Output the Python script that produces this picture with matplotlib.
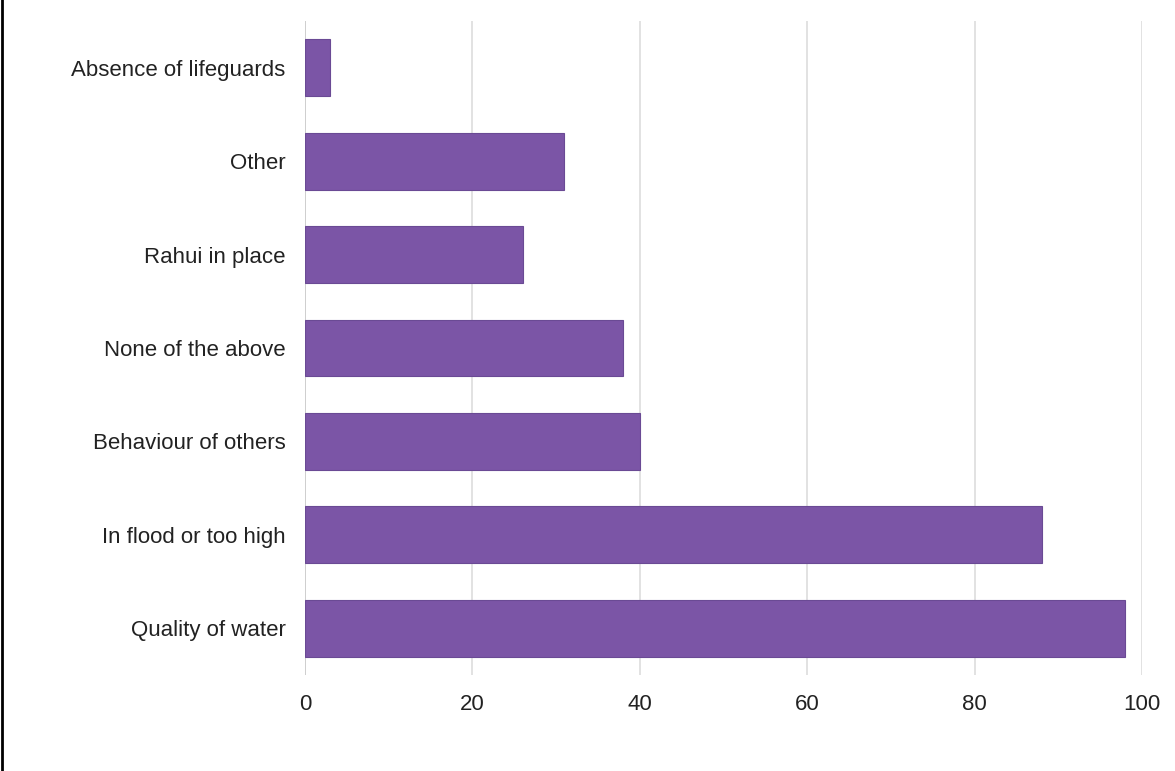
import matplotlib
matplotlib.use("Agg")
import matplotlib.pyplot as plt
from matplotlib.lines import Line2D

categories = ["Quality of water", "In flood or too high", "Behaviour of others",
              "None of the above", "Rahui in place", "Other", "Absence of lifeguards"]
values = [98, 88, 40, 38, 26, 31, 3]
xticks = [0, 20, 40, 60, 80, 100]

plt.rcParams['font.family'] = ['Liberation Sans', 'DejaVu Sans']

fig = plt.figure(figsize=(11.75, 7.71), dpi=100)
ax = fig.add_axes([305 / 1175, 1 - 675 / 771, (1142 - 305) / 1175, (675 - 21) / 771])

ax.barh(range(len(categories)), values, height=0.61, color="#7b55a6",
        edgecolor="#6a4a94", linewidth=0.8, zorder=3)

ax.set_xlim(0, 100)
ax.set_ylim(-0.5, len(categories) - 0.5)
ax.set_xticks(xticks)
ax.set_yticks(range(len(categories)))
ax.set_yticklabels(categories)
ax.grid(axis="x", color="#dddddd", linewidth=1.2, zorder=0)
ax.axvline(0, color="#cccccc", linewidth=1.2, zorder=2)
for s in ax.spines.values():
    s.set_visible(False)
ax.tick_params(axis="both", length=0, labelsize=16, labelcolor="#222222")
ax.tick_params(axis="y", pad=14)
ax.tick_params(axis="x", pad=14)

# left border of the screenshot
fig.add_artist(Line2D([2 / 1175, 2 / 1175], [0, 1], color="black", linewidth=2))

fig.savefig("out.png", dpi=100)
